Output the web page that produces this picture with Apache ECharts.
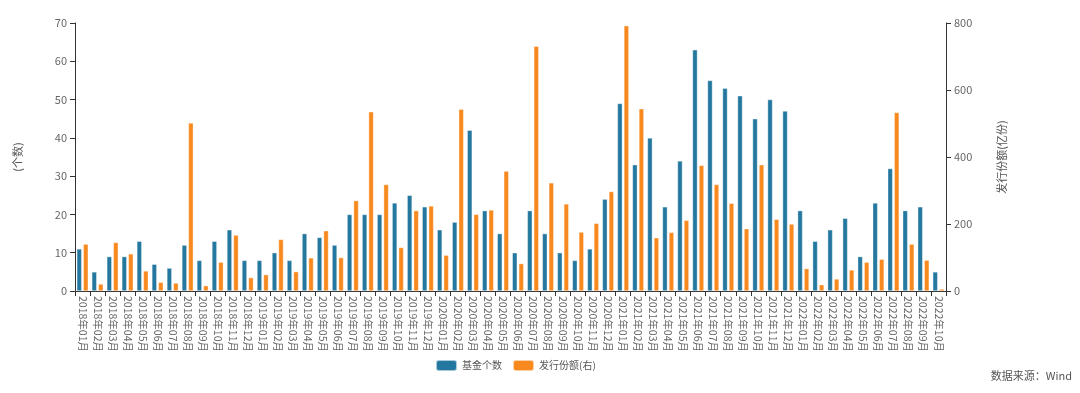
<!DOCTYPE html>
<html><head><meta charset="utf-8">
<script src="https://cdn.jsdelivr.net/npm/echarts@6/dist/echarts.min.js"></script>
<style>html,body{margin:0;padding:0;background:#fff}#c{width:1080px;height:393px}</style>
</head><body><div id="c"></div>
<script>
const months = ["2018年01月","2018年02月","2018年03月","2018年04月","2018年05月","2018年06月","2018年07月","2018年08月","2018年09月","2018年10月","2018年11月","2018年12月",
"2019年01月","2019年02月","2019年03月","2019年04月","2019年05月","2019年06月","2019年07月","2019年08月","2019年09月","2019年10月","2019年11月","2019年12月",
"2020年01月","2020年02月","2020年03月","2020年04月","2020年05月","2020年06月","2020年07月","2020年08月","2020年09月","2020年10月","2020年11月","2020年12月",
"2021年01月","2021年02月","2021年03月","2021年04月","2021年05月","2021年06月","2021年07月","2021年08月","2021年09月","2021年10月","2021年11月","2021年12月",
"2022年01月","2022年02月","2022年03月","2022年04月","2022年05月","2022年06月","2022年07月","2022年08月","2022年09月","2022年10月"];
const fundCount = [11,5,9,9,13,7,6,12,8,13,16,8,
8,10,8,15,14,12,20,20,20,23,25,22,
16,18,42,21,15,10,21,15,10,8,11,24,
49,33,40,22,34,63,55,53,51,45,50,47,
21,13,16,19,9,23,32,21,22,5];
const issueShares = [140,21,145,111,60,26,24,502,16,86,167,40,
49,154,58,99,180,100,270,535,318,130,240,254,
107,543,229,242,358,82,731,323,260,176,202,297,
792,544,159,175,211,375,318,262,186,377,214,200,
67,19,36,63,86,95,533,140,92,6];
const leftTicks = {min:0,max:70,interval:10};
const rightTicks = {min:0,max:800,interval:200};

const chart = echarts.init(document.getElementById('c'));
const ff = '"Noto Sans CJK SC", "Noto Sans", sans-serif';
const lbl = {color:'#666', fontSize:11, fontFamily:ff};
chart.setOption({
  animation:false,
  textStyle:{fontFamily:ff},
  grid:{left:75,right:134,top:23,bottom:102},
  legend:{
    data:['基金个数','发行份额(右)'],
    left:430, top:354, itemWidth:21, itemHeight:11, itemGap:10,
    textStyle:{color:'#555',fontSize:10,fontFamily:ff}
  },
  graphic:[{type:'text', right:8, top:370, style:{text:'数据来源：Wind', fill:'#555', font:'11px '+ff}}],
  xAxis:{
    type:'category', data:months,
    axisLine:{lineStyle:{color:'#333'}},
    axisTick:{show:true, alignWithLabel:false, lineStyle:{color:'#333'}},
    axisLabel:Object.assign({interval:0, rotate:-90, margin:5}, lbl, {fontSize:10.5})
  },
  yAxis:[{
    type:'value', min:leftTicks.min, max:leftTicks.max, interval:leftTicks.interval,
    name:'(个数)', nameLocation:'middle', nameGap:52, nameRotate:90,
    nameTextStyle:{color:'#555',fontSize:11,fontFamily:ff},
    axisLine:{show:true,lineStyle:{color:'#333'}},
    axisTick:{show:true,lineStyle:{color:'#333'}},
    splitLine:{show:false},
    axisLabel:lbl
  },{
    type:'value', min:rightTicks.min, max:rightTicks.max, interval:rightTicks.interval,
    name:'发行份额(亿份)', nameLocation:'middle', nameGap:50, nameRotate:90,
    nameTextStyle:{color:'#555',fontSize:11,fontFamily:ff},
    axisLine:{show:true,lineStyle:{color:'#333'}},
    axisTick:{show:true,lineStyle:{color:'#333'}},
    splitLine:{show:false},
    axisLabel:lbl
  }],
  series:[{
    name:'基金个数', type:'bar', yAxisIndex:0, data:fundCount,
    barWidth:5, barGap:'30%',
    itemStyle:{color:'#24789f', borderColor:'rgba(255,255,255,0.6)', borderWidth:0.6}
  },{
    name:'发行份额(右)', type:'bar', yAxisIndex:1, data:issueShares,
    barWidth:5,
    itemStyle:{color:'#f7891e', borderColor:'rgba(255,255,255,0.6)', borderWidth:0.6}
  }]
});
</script></body></html>
